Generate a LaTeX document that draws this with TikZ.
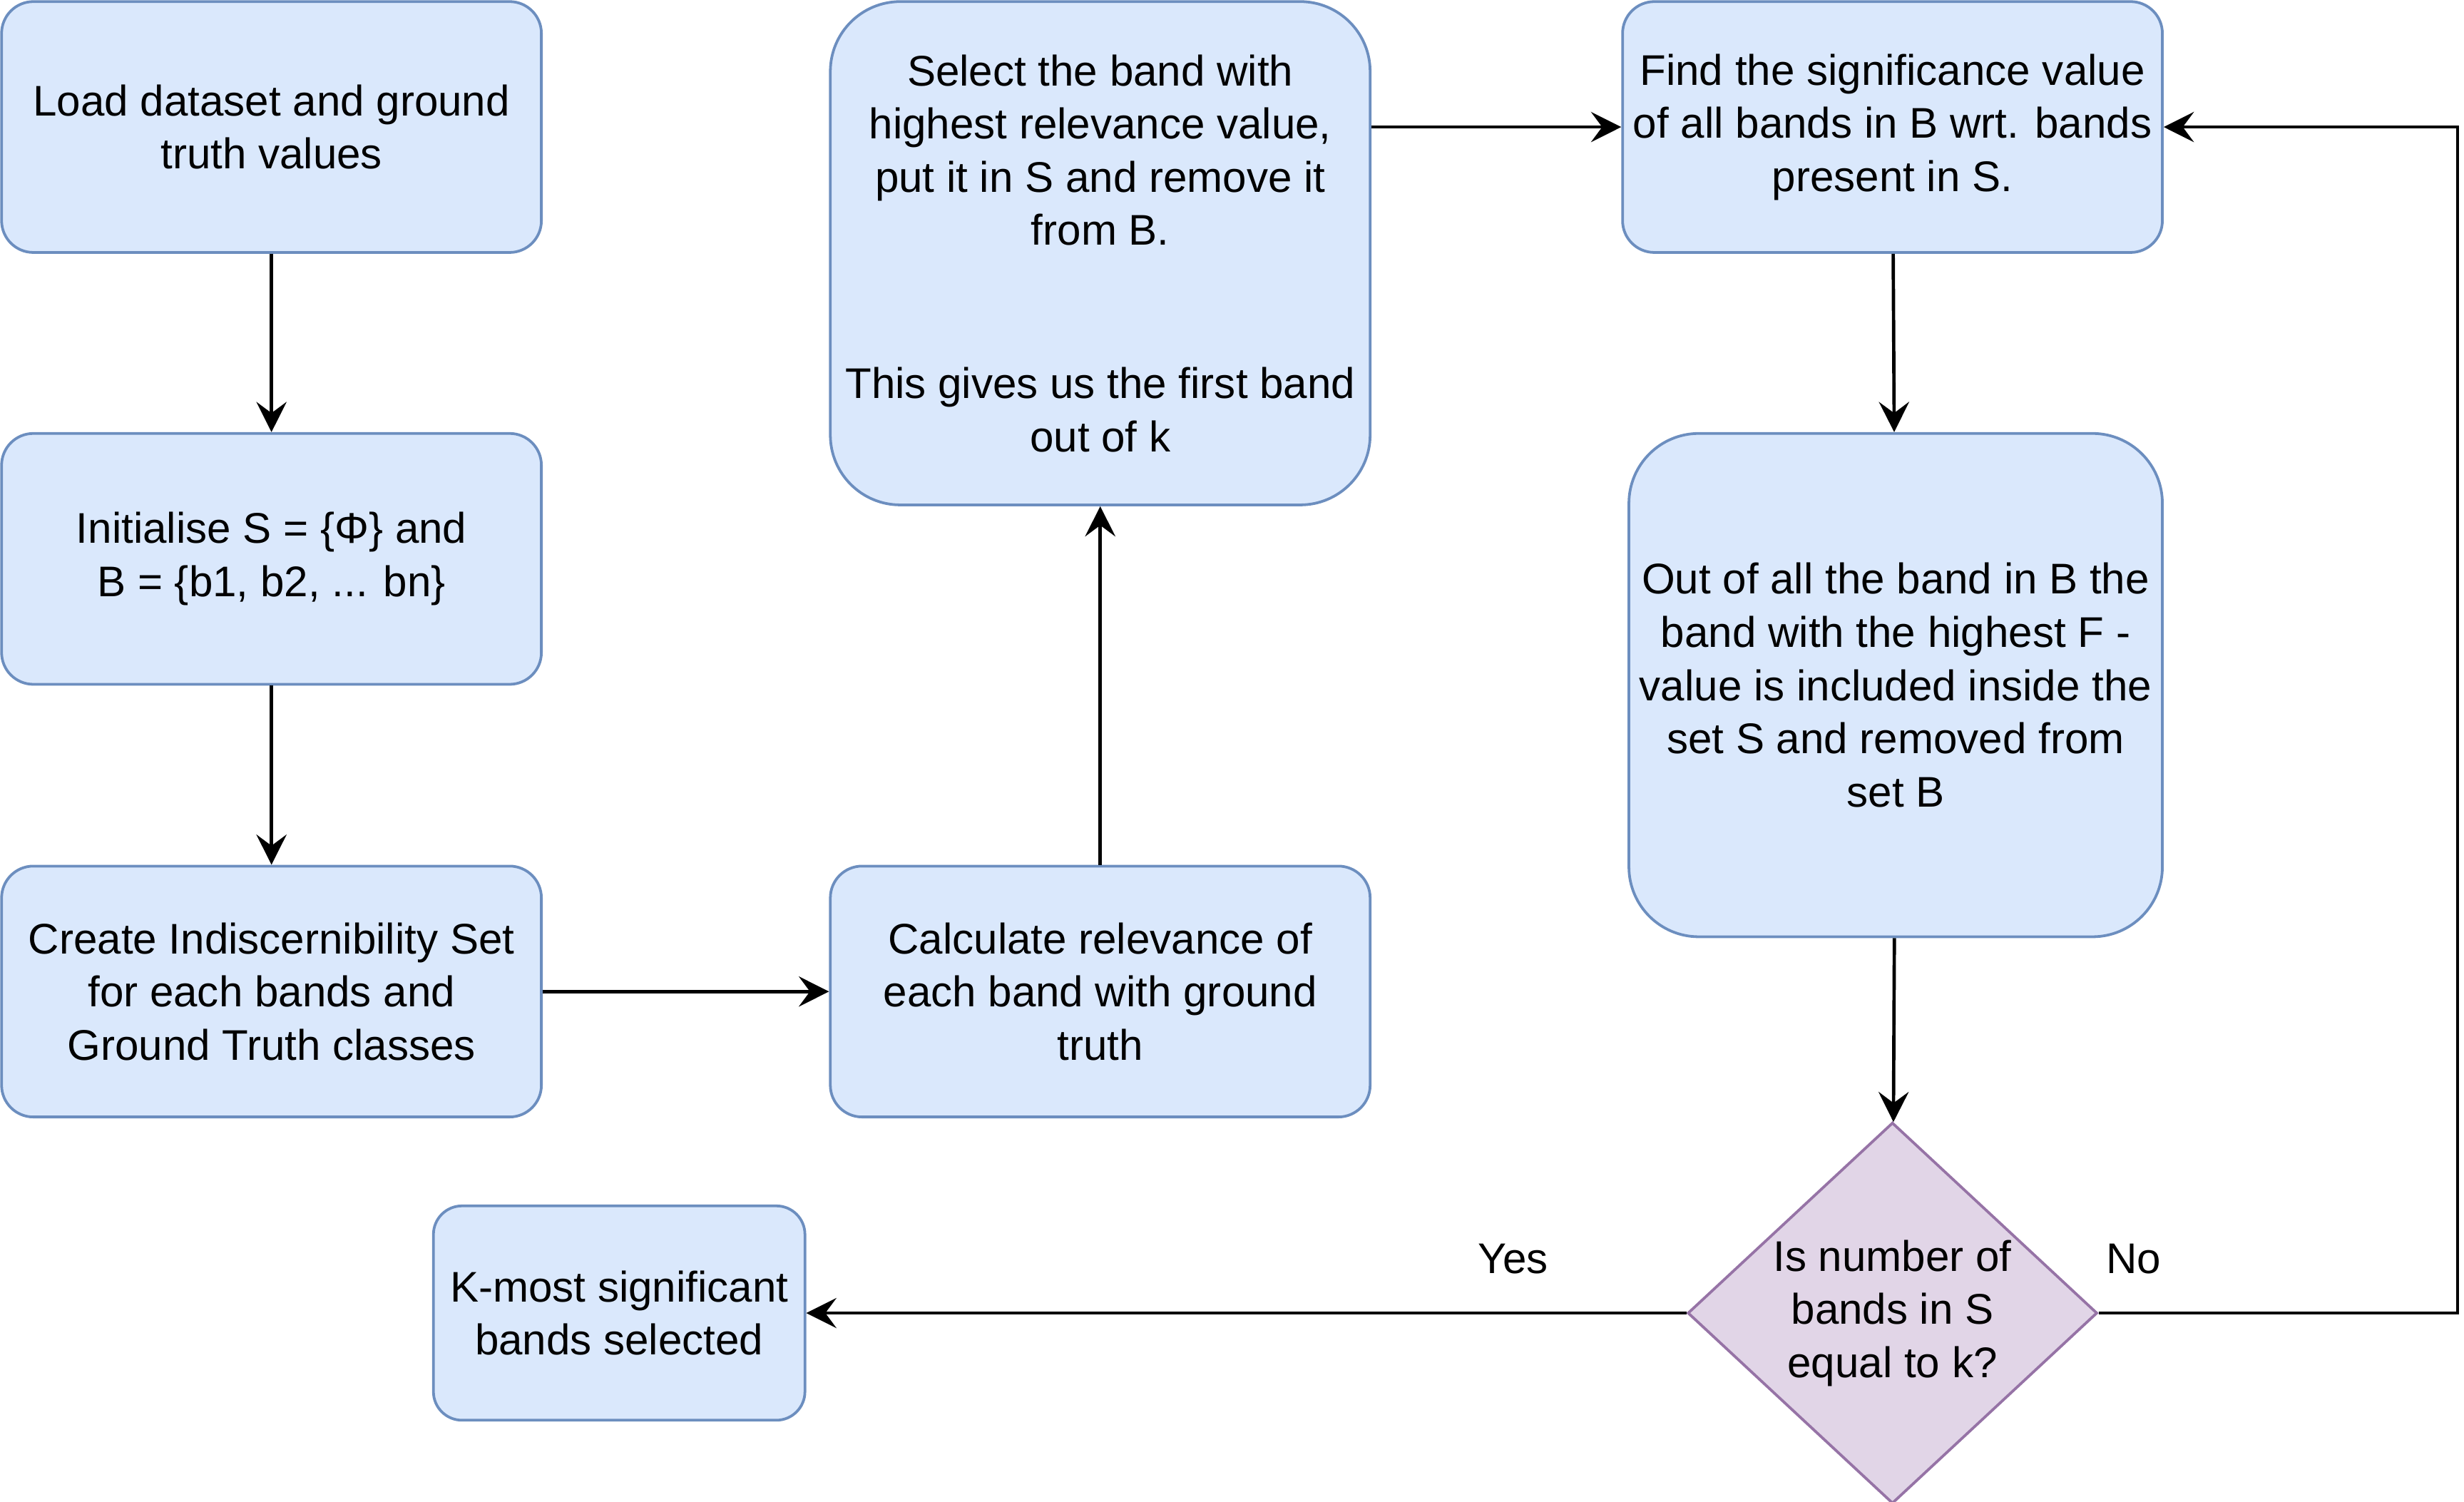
\documentclass[tikz,border=0pt]{standalone}
\usepackage{fontspec}
\setmainfont{Liberation Sans}
\usetikzlibrary{shapes}
\usetikzlibrary{arrows.meta}
\definecolor{boxfill}{HTML}{DAE8FC}
\definecolor{boxline}{HTML}{6C8EBF}
\definecolor{decfill}{HTML}{E1D5E7}
\definecolor{decline}{HTML}{9673A6}

\begin{document}
\begin{tikzpicture}[x=1pt, y=-1pt,
    every node/.style={font=\fontsize{27}{33.5}\selectfont},
    box/.style={draw=boxline, fill=boxfill, line width=1.7pt,
      rounded corners=20pt, align=center, minimum width=340pt,
      minimum height=158pt, inner sep=0pt},
    bigbox/.style={box, rounded corners=44pt, minimum height=317pt},
    decision/.style={diamond, draw=decline, fill=decfill, line width=1.7pt,
      minimum width=258pt, minimum height=240pt, inner sep=0pt},
    >={Stealth[length=19pt, width=19pt, inset=7pt]},
    flow/.style={->, line width=2.1pt}]

    \useasboundingbox (0,0) rectangle (1552,946);

    \node[box] (load) at (171,80) {Load dataset and ground\\truth values};
    \node[box] (init) at (171,352) {Initialise S = \{Φ\} and\\B = \{b1, b2, ... bn\}};
    \node[box] (indis) at (171,624.5) {Create Indiscernibility Set\\for each bands and\\Ground Truth classes};
    \node[box] (relev) at (693,624.5) {Calculate relevance of\\each band with ground\\truth};
    \node[bigbox] (first) at (693,159.5) {Select the band with\\highest relevance value,\\put it in S and remove it\\from B.\\[63pt]This gives us the first band\\out of k};
    \node[box] (signif) at (1192,80) {Find the significance value\\of all bands in B wrt. bands\\present in S.};
    \node[bigbox, minimum width=336pt] (fval) at (1194,431.5) {Out of all the band in B the\\band with the highest F -\\value is included inside the\\set S and removed from\\set B};
    \node[decision, label={[align=center]center:Is number of\\bands in S\\equal to k?}] (check) at (1192,827) {};
    \node[box, minimum width=234pt, minimum height=135pt, rounded corners=18pt] (kbest) at (390,827) {K-most significant\\bands selected};

    \node (yes) at (953,793) {Yes};
    \node (no) at (1344,793) {No};
    \coordinate (loop) at (1548,80);

    \draw[flow] (load) -- (init);
    \draw[flow] (init) -- (indis);
    \draw[flow] (indis) -- (relev);
    \draw[flow] (relev) -- (first);
    \draw[flow] (first.east |- signif) -- (signif);
    \draw[flow] (signif) -- (fval);
    \draw[flow] (fval) -- (check);
    \draw[flow] (check) -- (kbest);
    \draw[flow] (check.east) -| (loop) -- (signif.east);

  \end{tikzpicture}
\end{document}
